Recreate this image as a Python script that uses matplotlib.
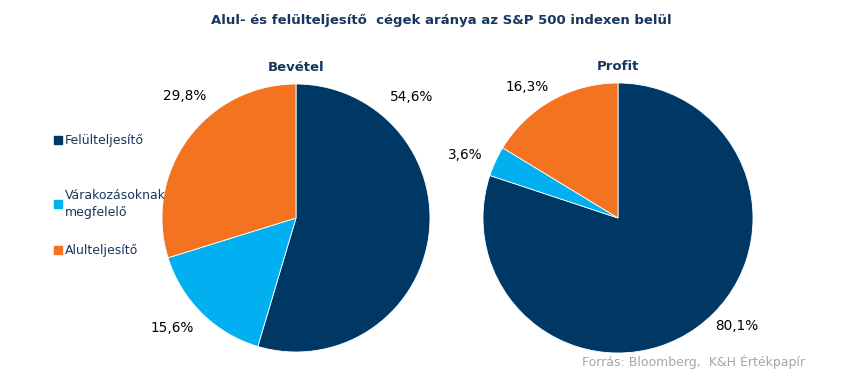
import matplotlib
matplotlib.use("Agg")
import matplotlib.pyplot as plt
from matplotlib.patches import Rectangle

plt.rcParams['font.family'] = ['DejaVu Sans']

categories = ["Felülteljesítő", "Várakozásoknak\nmegfelelő", "Alulteljesítő"]
revenue = [54.6, 15.6, 29.8]
profit = [80.1, 3.6, 16.3]
pie_titles = ["Bevétel", "Profit"]
title = "Alul- és felülteljesítő  cégek aránya az S&P 500 indexen belül"
source = "Forrás: Bloomberg,  K&H Értékpapír"

colors = ["#003865", "#00b0f0", "#f47321"]
navy_text = "#17375e"

W, H = 850, 376
fig = plt.figure(figsize=(W / 100, H / 100), dpi=100)

def fmt(v):
    return f"{v:.1f}%".replace(".", ",")

# label positions (relative to pie radius) for each pie
label_pos = [
    [(0.86, 0.90), (-0.92, -0.82), (-0.83, 0.91)],
    [(0.88, -0.80), (-1.13, 0.47), (-0.67, 0.97)],
]

pies = [(296, 218, 134), (618, 218, 135)]
for i, (vals, (cx, cy, r)) in enumerate(zip([revenue, profit], pies)):
    ax = fig.add_axes([(cx - r) / W, (H - cy - r) / H, 2 * r / W, 2 * r / H])
    ax.pie(vals, colors=colors, startangle=90, counterclock=False,
           radius=1, wedgeprops=dict(linewidth=0.6, edgecolor="white"))
    ax.set_xlim(-1, 1)
    ax.set_ylim(-1, 1)
    ax.set_aspect("auto")
    ax.axis("off")
    for v, (lx, ly) in zip(vals, label_pos[i]):
        ax.text(lx, ly, fmt(v), ha="center", va="center", fontsize=9.8,
                color="black", clip_on=False)
    ax.text(0, 1.12, pie_titles[i], ha="center", va="center", fontsize=9.5,
            fontweight="bold", color=navy_text, clip_on=False)

fig.text(441 / W, 1 - 20 / H, title, ha="center", va="center", fontsize=9.5,
         fontweight="bold", color=navy_text)

# legend
leg_y = [140, 204, 250]
for name, c, y in zip(categories, colors, leg_y):
    fig.patches.append(Rectangle((54 / W, 1 - (y + 4) / H), 8 / W, 8 / H,
                                 transform=fig.transFigure, color=c))
    fig.text(65 / W, 1 - y / H, name, ha="left", va="center", fontsize=9,
             color=navy_text, linespacing=1.3)

fig.text(805 / W, 1 - 362 / H, source, ha="right", va="center", fontsize=9,
         color="#a6a6a6")

fig.savefig("out.png", dpi=100)
